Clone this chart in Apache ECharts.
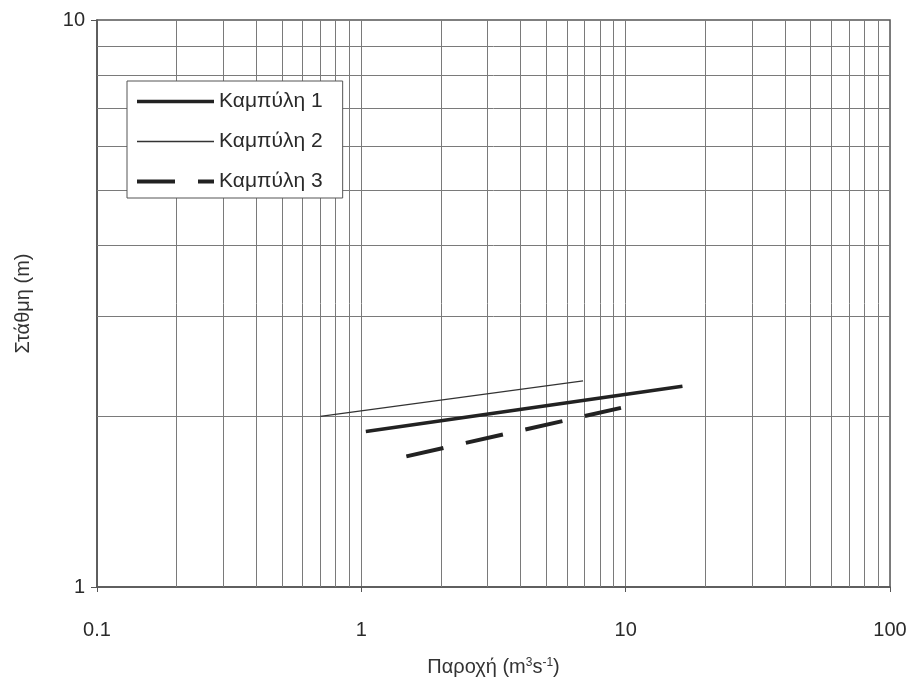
<!DOCTYPE html>
<html>
<head>
<meta charset="utf-8">
<script src="https://cdn.jsdelivr.net/npm/echarts@6/dist/echarts.min.js"></script>
<style>
  html, body { margin: 0; padding: 0; background: #fff; }
  #chart { width: 913px; height: 686px; }
</style>
</head>
<body>
<div id="chart"></div>
<script>
// Rating curves: discharge (x) vs stage (y), both on log scales
const seriesNames = ['Καμπύλη 1', 'Καμπύλη 2', 'Καμπύλη 3'];
const curve1 = [[1.04, 1.88], [16.4, 2.26]];
const curve2 = [[0.70, 2.00], [6.9, 2.31]];
const curve3 = [[1.48, 1.70], [9.6, 2.07]];

const xTickLabels = ['0.1', '1', '10', '100'];
const yTickLabels = ['1', '10'];
// minor grid positions within each decade
const xMinorGrid = [0.2, 0.3, 0.4, 0.5, 0.6, 0.7, 0.8, 0.9,
                    2, 3, 4, 5, 6, 7, 8, 9,
                    20, 30, 40, 50, 60, 70, 80, 90];
const yMinorGrid = [2, 3, 4, 5, 6, 7, 8, 9];

const FONT = '"Liberation Sans", Arial, sans-serif';
const INK = '#222';
const GRID = '#7a7a7a';

const chart = echarts.init(document.getElementById('chart'), null, { renderer: 'canvas' });

const gridMarks = [
  ...xMinorGrid.map(v => ({ xAxis: v })),
  ...yMinorGrid.map(v => ({ yAxis: v }))
];

chart.setOption({
  animation: false,
  backgroundColor: '#fff',
  textStyle: { fontFamily: FONT },
  grid: {
    left: 97, right: 23, top: 20, bottom: 99,
    show: true, borderColor: '#555', borderWidth: 1.5, backgroundColor: 'transparent'
  },
  legend: {
    data: seriesNames,
    orient: 'vertical',
    left: 127, top: 81,
    z: 20,
    backgroundColor: '#fff',
    borderColor: '#555', borderWidth: 1,
    padding: [10, 20, 6, 8],
    itemWidth: 77, itemHeight: 14, itemGap: 19,
    itemStyle: { opacity: 0 },
    lineStyle: { width: 'inherit', type: 'inherit' },
    textStyle: { fontSize: 21, color: '#2a2a2a', fontFamily: FONT },
    selectedMode: false
  },
  xAxis: {
    type: 'log', logBase: 10, min: 0.1, max: 100, interval: 1,
    name: '{t|Παροχή (m}{sup|3}{t|s}{sup|-1}{t|)}',
    nameLocation: 'middle', nameGap: 70,
    nameTextStyle: {
      rich: {
        t: { fontSize: 20, color: '#333', fontFamily: FONT },
        sup: { fontSize: 12, color: '#333', fontFamily: FONT, verticalAlign: 'top', padding: [0, 0, 9, 0] }
      }
    },
    axisLine: { show: true, lineStyle: { color: '#555', width: 1.5 } },
    axisTick: { show: true, inside: false, length: 5, lineStyle: { color: '#555' } },
    axisLabel: {
      margin: 33, fontSize: 20, color: '#2a2a2a', fontFamily: FONT,
      formatter: (v, i) => xTickLabels[i]
    },
    splitLine: { show: true, lineStyle: { color: GRID, width: 1 } },
    minorTick: { show: false }, minorSplitLine: { show: false }
  },
  yAxis: {
    type: 'log', logBase: 10, min: 1, max: 10, interval: 1,
    name: 'Στάθμη (m)',
    nameLocation: 'middle', nameGap: 64, nameRotate: 90,
    nameTextStyle: { fontSize: 20, color: '#333', fontFamily: FONT },
    axisLine: { show: true, lineStyle: { color: '#555', width: 1.5 } },
    axisTick: { show: true, inside: false, length: 6, lineStyle: { color: '#555' } },
    axisLabel: {
      margin: 12, fontSize: 20, color: '#2a2a2a', fontFamily: FONT,
      formatter: (v, i) => yTickLabels[i]
    },
    splitLine: { show: false }
  },
  series: [
    {
      name: 'minor-grid', type: 'line', data: [], silent: true, z: 1,
      markLine: {
        silent: true, symbol: ['none', 'none'], animation: false,
        label: { show: false },
        lineStyle: { color: GRID, width: 1, type: 'solid' },
        emphasis: { disabled: true },
        data: gridMarks
      }
    },
    {
      name: seriesNames[0], type: 'line', data: curve1, symbol: 'none', z: 5,
      lineStyle: { color: INK, width: 3.5, type: 'solid' }, itemStyle: { color: INK }
    },
    {
      name: seriesNames[1], type: 'line', data: curve2, symbol: 'none', z: 5,
      lineStyle: { color: '#333', width: 1.3, type: 'solid' }, itemStyle: { color: '#333' }
    },
    {
      name: seriesNames[2], type: 'line', data: curve3, symbol: 'none', z: 5,
      lineStyle: { color: INK, width: 4, type: [38, 23] }, itemStyle: { color: INK }
    }
  ]
});
</script>
</body>
</html>
